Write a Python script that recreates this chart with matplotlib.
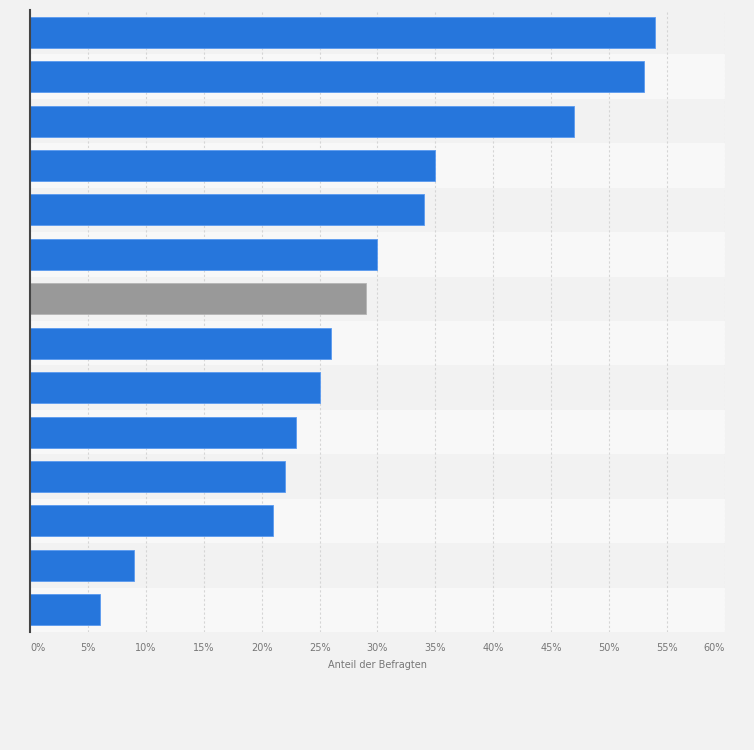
import numpy as np
import matplotlib.pyplot as plt

# Werte (Anteil der Befragten in %), von oben nach unten
werte = [54, 53, 47, 35, 34, 30, 29, 26, 25, 23, 22, 21, 9, 6]
farben = ['#2676dc'] * 6 + ['#999999'] + ['#2676dc'] * 7
kanten = ['#5a9af0'] * 6 + ['#b5b5b5'] + ['#5a9af0'] * 7
xticks = [0, 5, 10, 15, 20, 25, 30, 35, 40, 45, 50, 55, 60]
xlabels = [f'{t}%' for t in xticks]

fig = plt.figure(figsize=(7.54, 7.50), dpi=100)
fig.patch.set_facecolor('#f2f2f2')
ax = fig.add_axes([30/754, 1 - 632/750, 695/754, 622/750])
ax.set_facecolor('#f2f2f2')

n = len(werte)
y = np.arange(n)

# abwechselnde Streifen
for i in range(n):
    if i % 2 == 1:
        ax.axhspan(i - 0.5, i + 0.5, color='#f8f8f8', zorder=0, lw=0)

ax.barh(y, werte, height=0.7, color=farben, edgecolor=kanten,
        linewidth=0.6, zorder=3)

ax.set_ylim(n - 0.5, -0.5)
ax.set_xlim(0, 60)
ax.set_yticks([])
ax.set_xticks(xticks)
ax.set_xticklabels(xlabels, fontsize=7, color='#777777')
labs = ax.get_xticklabels()
labs[0].set_horizontalalignment('left')
labs[-1].set_horizontalalignment('right')
ax.tick_params(axis='x', length=0, pad=8)
ax.xaxis.grid(True, linestyle=(0, (2, 2)), color='#d5d5d5', linewidth=0.8, zorder=1)
ax.set_axisbelow(True)

for s in ['top', 'right', 'bottom']:
    ax.spines[s].set_visible(False)
ax.spines['left'].set_color('#444444')
ax.spines['left'].set_linewidth(1.5)
ax.spines['left'].set_zorder(5)

ax.set_xlabel('Anteil der Befragten', fontsize=7, color='#777777', labelpad=5)

fig.savefig('out.png', dpi=100, facecolor=fig.get_facecolor())
